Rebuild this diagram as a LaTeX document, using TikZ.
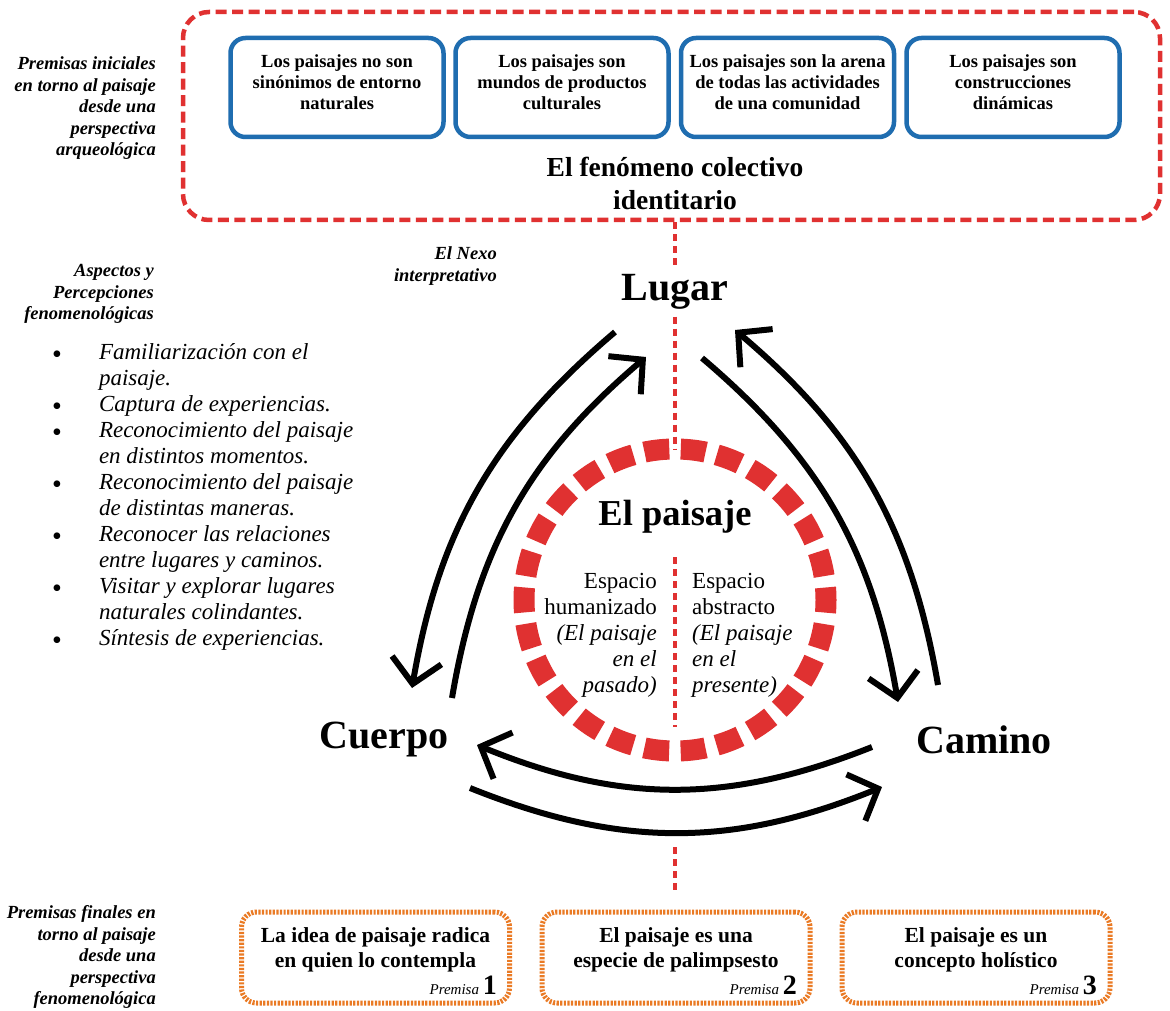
\documentclass[tikz,border=0pt]{standalone}
\usepackage{fontspec}
\setmainfont{Liberation Serif}
\usepackage{tikz}
\usetikzlibrary{arrows.meta}
\definecolor{nexred}{HTML}{E03131}
\definecolor{boxblue}{HTML}{1F6DB0}
\definecolor{premorange}{HTML}{EA7A24}
\newcommand{\bigdot}{\smash{\raisebox{-4.5pt}{\upshape\fontsize{28}{0}\selectfont\textbullet}}}

\begin{document}
\begin{tikzpicture}[x=1pt,y=-1pt,
	redbox/.style={draw=nexred, line width=4.5pt, dash pattern=on 11pt off 5.5pt, rounded corners=26pt, minimum width=977pt, minimum height=208pt},
	bluebox/.style={draw=boxblue, line width=4.5pt, rounded corners=15pt, minimum width=213pt, minimum height=99pt},
	boxtext/.style={align=center, font=\bfseries\fontsize{18.5}{21}\selectfont, inner sep=0pt},
	premise/.style={draw=premorange, line width=5pt, dash pattern=on 2.2pt off 1.4pt, rounded corners=15pt, minimum width=268pt, minimum height=91pt},
	premtext/.style={align=center, font=\bfseries\fontsize{21.5}{25}\selectfont, inner sep=0pt},
	premnum/.style={anchor=base east, inner sep=0pt, font=\itshape\fontsize{15}{15}\selectfont},
	sidelabel/.style={align=right, anchor=east, font=\bfseries\itshape\fontsize{18.5}{21.5}\selectfont, inner sep=0pt},
	vertex/.style={font=\bfseries\fontsize{40}{44}\selectfont, inner sep=7pt},
	nexus/.style={draw=nexred, line width=3.5pt, dash pattern=on 7pt off 5pt},
	spacetext/.style={font=\fontsize{23}{26}\selectfont, inner sep=0pt},
	arr/.style={line width=6pt, -{Straight Barb[length=24pt,width=50pt]}}]

	\useasboundingbox[fill=white] (0,0) rectangle (1170,1011);

	% premisas iniciales
	\node[redbox] (ident) at (671.5,116) {};
	\node[bluebox] (bx1) at (337,87.5) {};
	\node[bluebox] (bx2) at (562,87.5) {};
	\node[bluebox] (bx3) at (787.5,87.5) {};
	\node[bluebox] (bx4) at (1013,87.5) {};
	\node[boxtext] (t1) at ([yshift=5pt]bx1.center) {Los paisajes no son\\sinónimos de entorno\\naturales};
	\node[boxtext] (t2) at ([yshift=5pt]bx2.center) {Los paisajes son\\mundos de productos\\culturales};
	\node[boxtext] (t3) at ([yshift=5pt]bx3.center) {Los paisajes son la arena\\de todas las actividades\\de una comunidad};
	\node[boxtext] (t4) at ([yshift=5pt]bx4.center) {Los paisajes son\\construcciones\\dinámicas};
	\node[align=center, inner sep=0pt, font=\bfseries\fontsize{27.5}{33}\selectfont] (colectivo) at (675,183.5) {El fenómeno colectivo\\identitario};

	\node[sidelabel] (iniciales) at (156,108.5) {Premisas iniciales\\en torno al paisaje\\desde una\\perspectiva\\arqueológica};
	\node[sidelabel] (nexo) at (497,266) {El Nexo\\interpretativo};
	\node[sidelabel] (aspectos) at (154,294) {Aspectos y\\Percepciones\\fenomenológicas};
	\node[sidelabel] (finales) at (156,957) {Premisas finales en\\torno al paisaje\\desde una\\perspectiva\\fenomenológica};

	\node[anchor=north west, inner sep=0pt, font=\itshape\fontsize{23}{26}\selectfont] (lista) at (52,341) {%
		\begin{tabular}{@{}c@{\hspace{37pt}}l@{}}
			\bigdot & Familiarización con el\\
			& paisaje.\\
			\bigdot & Captura de experiencias.\\
			\bigdot & Reconocimiento del paisaje\\
			& en distintos momentos.\\
			\bigdot & Reconocimiento del paisaje\\
			& de distintas maneras.\\
			\bigdot & Reconocer las relaciones\\
			& entre lugares y caminos.\\
			\bigdot & Visitar y explorar lugares\\
			& naturales colindantes.\\
			\bigdot & Síntesis de experiencias.
		\end{tabular}};

	% triangulo
	\node[vertex] (Lugar) at (675,292) {Lugar};
	\node[vertex] (Cuerpo) at (384,740) {Cuerpo};
	\node[vertex] (Camino) at (984,740) {Camino};

	\node[circle, draw=nexred, line width=21pt, minimum size=302pt, inner sep=0pt, outer sep=0pt,
		dash pattern=on 25pt off 11.49pt, dash phase=12.5pt] (paisaje) at (675,600) {};
	\node[font=\bfseries\fontsize{36.5}{40}\selectfont, inner sep=0pt] (titulo) at (675,517) {El paisaje};
	\node[spacetext, align=right, anchor=north east] (pasado) at (657,573) {Espacio\\humanizado\\\textit{(El paisaje}\\\textit{en el}\\\textit{pasado)}};
	\node[spacetext, align=left, anchor=north west] (presente) at (692,573) {Espacio\\abstracto\\\textit{(El paisaje}\\\textit{en el}\\\textit{presente)}};

	\coordinate (divtop) at (675,557);
	\coordinate (divbot) at (675,727);
	\coordinate (bottop) at (675,847);
	\coordinate (botend) at (675,892);

	\draw[nexus] (ident.south -| Lugar) -- (Lugar.north);
	\draw[nexus] (Lugar.south) -- (paisaje.north);
	\draw[nexus] (divtop) -- (divbot);
	\draw[nexus] (bottop) -- (botend);

	\coordinate (lu-ol) at ([shift={(-60,40)}]Lugar.center);
	\coordinate (lu-il) at ([shift={(-29,65)}]Lugar.center);
	\coordinate (lu-ir) at ([shift={(27,66)}]Lugar.center);
	\coordinate (lu-or) at ([shift={(60,38)}]Lugar.center);
	\coordinate (cu-ol) at ([shift={(28,-52)}]Cuerpo.center);
	\coordinate (cu-il) at ([shift={(68,-42)}]Cuerpo.center);
	\coordinate (cu-bu) at ([shift={(93,5)}]Cuerpo.center);
	\coordinate (cu-bl) at ([shift={(86,48)}]Cuerpo.center);
	\coordinate (ca-ir) at ([shift={(-86,-38)}]Camino.center);
	\coordinate (ca-or) at ([shift={(-46,-55)}]Camino.center);
	\coordinate (ca-bu) at ([shift={(-112,7)}]Camino.center);
	\coordinate (ca-bl) at ([shift={(-102,47)}]Camino.center);

	\path[arr] (lu-ol) edge [bend right=20] (cu-ol)
		(cu-il) edge [bend left=20] (lu-il)
		(lu-ir) edge [bend left=20] (ca-ir)
		(ca-or) edge [bend right=20] (lu-or)
		(ca-bu) edge [bend left=22] (cu-bu)
		(cu-bl) edge [bend right=22] (ca-bl);

	% premisas finales
	\node[premise] (pr1) at (375.5,957.5) {};
	\node[premise] (pr2) at (676,957.5) {};
	\node[premise] (pr3) at (976,957.5) {};
	\node[premtext] (pt1) at (375.5,949.5) {La idea de paisaje radica\\en quien lo contempla};
	\node[premtext] (pt2) at (676,949.5) {El paisaje es una\\especie de palimpsesto};
	\node[premtext] (pt3) at (976,949.5) {El paisaje es un\\concepto holístico};
	\node[premnum] (pn1) at (497,994) {Premisa \upshape\bfseries\fontsize{28}{28}\selectfont 1};
	\node[premnum] (pn2) at (797,994) {Premisa \upshape\bfseries\fontsize{28}{28}\selectfont 2};
	\node[premnum] (pn3) at (1097,994) {Premisa \upshape\bfseries\fontsize{28}{28}\selectfont 3};
\end{tikzpicture}
\end{document}
